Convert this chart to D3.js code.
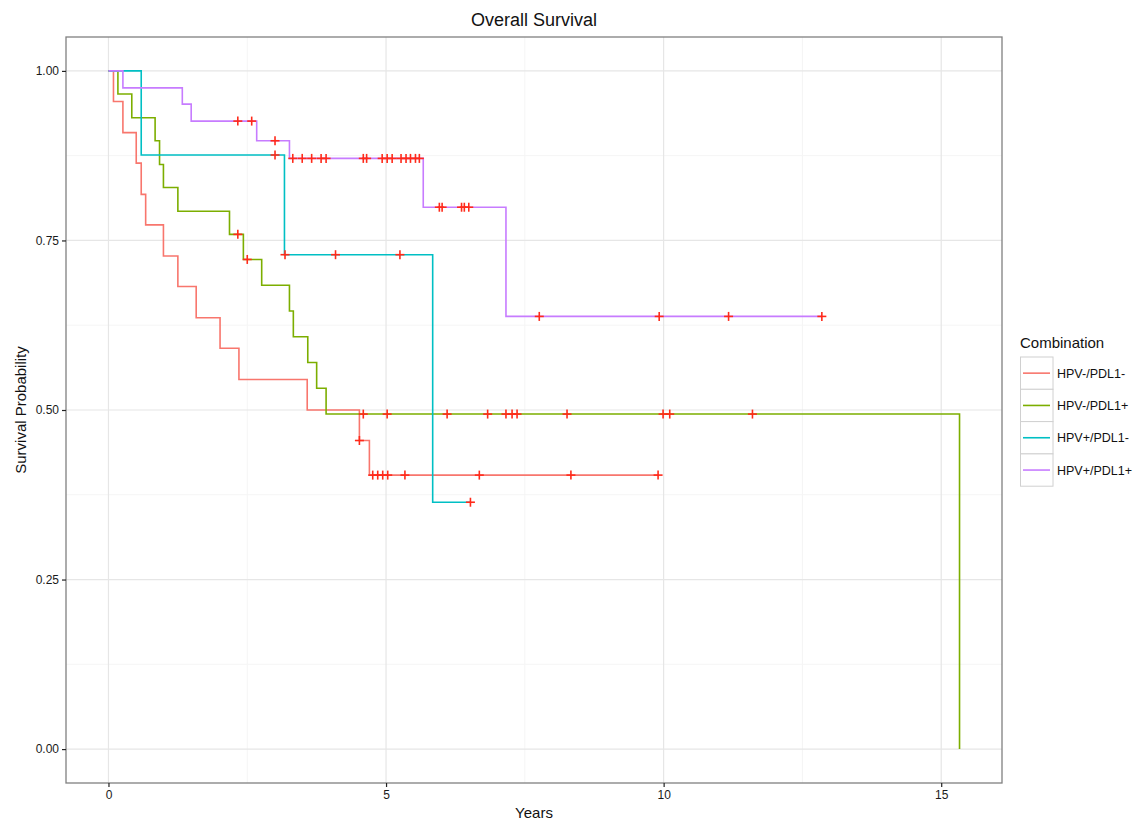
<!DOCTYPE html>
<html>
<head>
<meta charset="utf-8">
<script src="https://cdn.jsdelivr.net/npm/d3@7"></script>
<style>
  body { margin: 0; background: #fff; }
  text { font-family: "Liberation Sans", Arial, sans-serif; }
</style>
</head>
<body>
<svg id="chart" width="1143" height="823"></svg>
<script>
// ---- data ----
const groups = ["HPV-/PDL1-", "HPV-/PDL1+", "HPV+/PDL1-", "HPV+/PDL1+"];
const colors = ["#F8766D", "#7CAE00", "#00BFC4", "#C77CFF"];

const redEventTimes = [0.09, 0.26, 0.50, 0.59, 0.67, 0.99, 1.25, 1.58, 2.01, 2.35, 3.58, 4.52, 4.70];
const redSurvival   = [0.955, 0.909, 0.864, 0.818, 0.773, 0.727, 0.682, 0.636, 0.591, 0.545, 0.500, 0.455, 0.404];
const redCensor     = [4.52, 4.76, 4.85, 4.94, 5.03, 5.34, 6.68, 8.33, 9.90];

const greenEventTimes = [0.17, 0.42, 0.84, 0.92, 0.99, 1.25, 2.18, 2.43, 2.76, 3.26, 3.33, 3.59, 3.75, 3.92, 15.33];
const greenSurvival   = [0.966, 0.931, 0.897, 0.862, 0.828, 0.793, 0.759, 0.722, 0.684, 0.646, 0.608, 0.570, 0.532, 0.494, 0.0];
const greenCensor     = [2.33, 2.50, 4.59, 5.02, 6.10, 6.83, 7.16, 7.27, 7.36, 8.26, 9.99, 10.11, 11.60];

const tealEventTimes = [0.59, 3.17, 5.84];
const tealSurvival   = [0.876, 0.729, 0.364];
const tealCensor     = [3.00, 3.18, 4.09, 5.25, 6.52];

const purpleEventTimes = [0.26, 1.33, 1.49, 2.67, 3.26, 5.67, 7.16];
const purpleSurvival   = [0.975, 0.951, 0.926, 0.897, 0.871, 0.799, 0.638];
const purpleCensor     = [2.33, 2.58, 3.00, 3.32, 3.49, 3.66, 3.83, 3.92, 4.59, 4.65, 4.93, 5.02, 5.11,
                          5.27, 5.36, 5.44, 5.53, 5.60, 5.96, 6.01, 6.36, 6.41, 6.49, 7.76, 9.92, 11.17, 12.85];

const xTicks = [0, 5, 10, 15];
const yTicks = [0, 0.25, 0.5, 0.75, 1];
const yTickLabels = ["0.00", "0.25", "0.50", "0.75", "1.00"];

const series = [
  { name: groups[0], color: colors[0], times: redEventTimes, surv: redSurvival, censor: redCensor },
  { name: groups[1], color: colors[1], times: greenEventTimes, surv: greenSurvival, censor: greenCensor },
  { name: groups[2], color: colors[2], times: tealEventTimes, surv: tealSurvival, censor: tealCensor },
  { name: groups[3], color: colors[3], times: purpleEventTimes, surv: purpleSurvival, censor: purpleCensor }
];

// ---- layout ----
const svg = d3.select("#chart");
const panel = { left: 66, right: 1002, top: 37, bottom: 783 };

const x = d3.scaleLinear().domain([-0.765, 16.095]).range([panel.left, panel.right]);
const y = d3.scaleLinear().domain([-0.05, 1.05]).range([panel.bottom, panel.top]);

// panel background
svg.append("rect").attr("x", panel.left).attr("y", panel.top)
  .attr("width", panel.right - panel.left).attr("height", panel.bottom - panel.top)
  .attr("fill", "#fff");

// minor grid
const xMinor = [2.5, 7.5, 12.5];
const yMinor = [0.125, 0.375, 0.625, 0.875];
svg.append("g").selectAll("line").data(xMinor).join("line")
  .attr("x1", d => x(d)).attr("x2", d => x(d)).attr("y1", panel.top).attr("y2", panel.bottom)
  .attr("stroke", "#f5f5f5").attr("stroke-width", 1);
svg.append("g").selectAll("line").data(yMinor).join("line")
  .attr("y1", d => y(d)).attr("y2", d => y(d)).attr("x1", panel.left).attr("x2", panel.right)
  .attr("stroke", "#f5f5f5").attr("stroke-width", 1);
// major grid
svg.append("g").selectAll("line").data(xTicks).join("line")
  .attr("x1", d => x(d)).attr("x2", d => x(d)).attr("y1", panel.top).attr("y2", panel.bottom)
  .attr("stroke", "#e6e6e6").attr("stroke-width", 1.2);
svg.append("g").selectAll("line").data(yTicks).join("line")
  .attr("y1", d => y(d)).attr("y2", d => y(d)).attr("x1", panel.left).attr("x2", panel.right)
  .attr("stroke", "#e6e6e6").attr("stroke-width", 1.2);

// step curves
const line = d3.line().x(d => x(d[0])).y(d => y(d[1])).curve(d3.curveStepAfter);
function survAt(s, t) {
  let v = 1;
  s.times.forEach((tt, i) => { if (tt <= t + 1e-9) v = s.surv[i]; });
  return v;
}
series.forEach(s => {
  const pts = [[0, 1]];
  s.times.forEach((t, i) => pts.push([t, s.surv[i]]));
  const lastT = Math.max(d3.max(s.times), d3.max(s.censor));
  pts.push([lastT, survAt(s, lastT)]);
  svg.append("path").datum(pts).attr("d", line)
    .attr("fill", "none").attr("stroke", s.color).attr("stroke-width", 1.6);
});

// censor marks
const ms = 4.5;
series.forEach(s => {
  const g = svg.append("g");
  s.censor.forEach(t => {
    const cx = x(t), cy = y(survAt(s, t));
    g.append("line").attr("x1", cx - ms).attr("x2", cx + ms).attr("y1", cy).attr("y2", cy)
      .attr("stroke", "#FF2A1A").attr("stroke-width", 1.6);
    g.append("line").attr("x1", cx).attr("x2", cx).attr("y1", cy - ms).attr("y2", cy + ms)
      .attr("stroke", "#FF2A1A").attr("stroke-width", 1.6);
  });
});

// panel border
svg.append("rect").attr("x", panel.left).attr("y", panel.top)
  .attr("width", panel.right - panel.left).attr("height", panel.bottom - panel.top)
  .attr("fill", "none").attr("stroke", "#808080").attr("stroke-width", 1.3);

// axes
const xAxis = d3.axisBottom(x).tickValues(xTicks).tickSize(4).tickPadding(3).tickFormat(d3.format("d"));
const gx = svg.append("g").attr("transform", `translate(0,${panel.bottom})`).call(xAxis);
gx.select(".domain").remove();
gx.selectAll(".tick line").attr("stroke", "#222").attr("stroke-width", 1.2);
gx.selectAll(".tick text").attr("font-size", 12).attr("fill", "#1a1a1a")
  .style("font-family", "'Liberation Sans', Arial, sans-serif");

const yAxis = d3.axisLeft(y).tickValues(yTicks).tickSize(4).tickPadding(3)
  .tickFormat((d, i) => yTickLabels[i]);
const gy = svg.append("g").attr("transform", `translate(${panel.left},0)`).call(yAxis);
gy.select(".domain").remove();
gy.selectAll(".tick line").attr("stroke", "#222").attr("stroke-width", 1.2);
gy.selectAll(".tick text").attr("font-size", 12).attr("fill", "#1a1a1a")
  .style("font-family", "'Liberation Sans', Arial, sans-serif");

// titles
svg.append("text").attr("x", (panel.left + panel.right) / 2).attr("y", 26)
  .attr("text-anchor", "middle").attr("font-size", 18).attr("fill", "#111").text("Overall Survival");
svg.append("text").attr("x", (panel.left + panel.right) / 2).attr("y", 818)
  .attr("text-anchor", "middle").attr("font-size", 15).attr("fill", "#111").text("Years");
svg.append("text").attr("transform", `translate(26,${(panel.top + panel.bottom) / 2}) rotate(-90)`)
  .attr("text-anchor", "middle").attr("font-size", 15).attr("fill", "#111").text("Survival Probability");

// legend
const lg = svg.append("g");
lg.append("text").attr("x", 1020).attr("y", 348).attr("font-size", 15).attr("fill", "#111").text("Combination");
const keyTop = 357, keyH = 32.3;
series.forEach((s, i) => {
  const ky = keyTop + i * keyH;
  lg.append("rect").attr("x", 1020.5).attr("y", ky).attr("width", 32.5).attr("height", keyH)
    .attr("fill", "#fff").attr("stroke", "#d0d0d0").attr("stroke-width", 1);
  lg.append("line").attr("x1", 1023).attr("x2", 1050).attr("y1", ky + keyH / 2).attr("y2", ky + keyH / 2)
    .attr("stroke", s.color).attr("stroke-width", 1.6);
  lg.append("text").attr("x", 1057).attr("y", ky + keyH / 2 + 4.5).attr("font-size", 12.5)
    .attr("fill", "#111").text(s.name);
});
</script>
</body>
</html>
